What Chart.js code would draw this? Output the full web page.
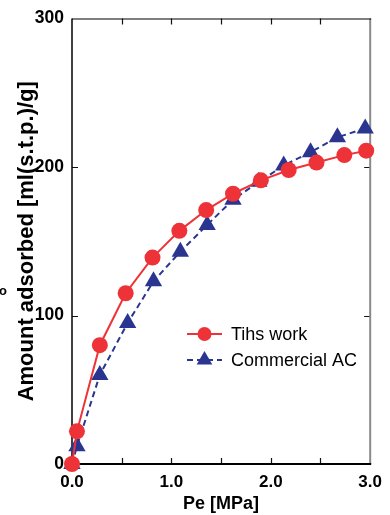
<!DOCTYPE html>
<html>
<head>
<meta charset="utf-8">
<script src="https://cdn.jsdelivr.net/npm/chart.js@4.4.1/dist/chart.umd.min.js"></script>
<style>
  html, body { margin: 0; padding: 0; background: #fff; }
</style>
</head>
<body>
<canvas id="isoChart" width="390" height="515"></canvas>
<script>
// values
const pressureOurs = [0.0, 0.05, 0.28, 0.54, 0.81, 1.08, 1.35, 1.62, 1.90, 2.18, 2.46, 2.74, 2.96];
const amountOurs = [0, 22, 80, 115, 139, 157, 171, 182, 191, 198, 203, 208, 211];
const pressureAC = [0.0, 0.05, 0.28, 0.56, 0.82, 1.09, 1.36, 1.62, 1.88, 2.13, 2.40, 2.67, 2.95];
const amountAC = [0, 12, 60, 95, 123, 143, 161, 178, 190, 201, 210, 220, 226];
const seriesNames = ['Tihs work', 'Commercial AC'];
const xTickLabels = ['0.0', '1.0', '2.0', '3.0'];
const yTickLabels = ['0', '100', '200', '300'];

const RED = '#EE3338';
const NAVY = '#2A3590';
const SANS = '"Liberation Sans", Arial, sans-serif';

function toPoints(xs, ys) {
    return xs.map((x, i) => ({ x: x, y: ys[i] }));
}

// box frame + inward tick marks, drawn under the markers
const framePlugin = {
    id: 'frame',
    beforeDatasetsDraw(chart) {
        const { ctx, chartArea: a, scales } = chart;
        ctx.save();
        ctx.lineCap = 'butt';
        // ticks
        ctx.strokeStyle = '#111';
        ctx.lineWidth = 1.2;
        scales.x.ticks.forEach(t => {
            if (t.value <= 0 || t.value >= 3) return;
            const px = Math.round(scales.x.getPixelForValue(t.value)) + 0.5;
            ctx.beginPath();
            ctx.moveTo(px, a.bottom); ctx.lineTo(px, a.bottom - 6);
            ctx.moveTo(px, a.top); ctx.lineTo(px, a.top + 6);
            ctx.stroke();
        });
        scales.y.ticks.forEach(t => {
            if (t.value <= 0 || t.value >= 300) return;
            const py = Math.round(scales.y.getPixelForValue(t.value)) + 0.5;
            ctx.beginPath();
            ctx.moveTo(a.left, py); ctx.lineTo(a.left + 6, py);
            ctx.moveTo(a.right, py); ctx.lineTo(a.right - 6, py);
            ctx.stroke();
        });
        // frame
        ctx.strokeStyle = '#8a8a8a';
        ctx.lineWidth = 2;
        ctx.beginPath(); ctx.moveTo(a.right, a.top); ctx.lineTo(a.right, a.bottom); ctx.stroke();
        ctx.strokeStyle = '#000';
        ctx.lineWidth = 1.2;
        ctx.beginPath(); ctx.moveTo(a.left, a.top + 0.5); ctx.lineTo(a.right + 1, a.top + 0.5); ctx.stroke();
        ctx.lineWidth = 1.5;
        ctx.beginPath(); ctx.moveTo(a.left, a.top); ctx.lineTo(a.left, a.bottom); ctx.stroke();
        ctx.lineWidth = 2;
        ctx.beginPath(); ctx.moveTo(a.left, a.bottom); ctx.lineTo(a.right + 1, a.bottom); ctx.stroke();
        ctx.restore();
    },
    afterDraw(chart) {
        // stray glyph cut off at the left edge of the original figure
        const ctx = chart.ctx;
        ctx.save();
        ctx.fillStyle = '#000';
        ctx.font = 'bold 13px ' + SANS;
        ctx.textBaseline = 'middle';
        ctx.fillText('o', -1, 291);
        ctx.restore();
    }
};

// legend with a line sample through the marker
const legendPlugin = {
    id: 'lineLegend',
    afterDatasetsDraw(chart) {
        const ctx = chart.ctx;
        const x0 = 187, x1 = 222, tx = 231;
        const rows = [334, 360];
        ctx.save();
        chart.data.datasets.forEach((ds, i) => {
            const y = rows[i];
            ctx.strokeStyle = ds.borderColor;
            ctx.lineWidth = ds.borderWidth;
            ctx.setLineDash(ds.borderDash || []);
            ctx.beginPath(); ctx.moveTo(x0, y); ctx.lineTo(x1, y); ctx.stroke();
            ctx.setLineDash([]);
            ctx.fillStyle = ds.pointBackgroundColor;
            const cx = (x0 + x1) / 2;
            ctx.beginPath();
            if (ds.pointStyle === 'triangle') {
                const r = 9;
                ctx.moveTo(cx, y - r);
                ctx.lineTo(cx + r * 0.866, y + r / 2);
                ctx.lineTo(cx - r * 0.866, y + r / 2);
                ctx.closePath();
            } else {
                ctx.arc(cx, y, 7, 0, Math.PI * 2);
            }
            ctx.fill();
            ctx.fillStyle = '#000';
            ctx.font = '18px ' + SANS;
            ctx.textBaseline = 'middle';
            ctx.fillText(ds.label, tx, y + 1);
        });
        ctx.restore();
    }
};

const ctx = document.getElementById('isoChart').getContext('2d');
const isoChart = new Chart(ctx, {
    type: 'scatter',
    data: {
        datasets: [{
            label: seriesNames[0],
            data: toPoints(pressureOurs, amountOurs),
            showLine: true,
            borderColor: RED,
            borderWidth: 2,
            pointStyle: 'circle',
            pointRadius: 8,
            pointBorderWidth: 0,
            pointBackgroundColor: RED,
            pointHoverRadius: 8,
            clip: false
        }, {
            label: seriesNames[1],
            data: toPoints(pressureAC, amountAC),
            showLine: true,
            borderColor: NAVY,
            borderWidth: 2,
            borderDash: [6, 4],
            pointStyle: 'triangle',
            pointRadius: 10,
            pointBorderWidth: 0,
            pointBackgroundColor: NAVY,
            pointHoverRadius: 10,
            clip: false
        }]
    },
    options: {
        responsive: false,
        animation: false,
        devicePixelRatio: 1,
        layout: { padding: { top: 18, right: 17, left: 0, bottom: 0 } },
        plugins: {
            legend: { display: false },
            tooltip: { enabled: false }
        },
        scales: {
            x: {
                type: 'linear',
                min: 0,
                max: 3,
                afterFit(scale) { scale.height = 51; },
                grid: { display: false, drawTicks: false },
                border: { display: false },
                ticks: {
                    stepSize: 0.5,
                    padding: 8,
                    maxRotation: 0,
                    autoSkip: false,
                    color: '#000',
                    font: { family: SANS, size: 17, weight: 'bold' },
                    callback: v => (Number.isInteger(v) ? xTickLabels[v] : '')
                },
                title: {
                    display: true,
                    text: 'Pe [MPa]',
                    color: '#000',
                    padding: { top: 0, bottom: 0 },
                    font: { family: SANS, size: 18, weight: 'bold' }
                }
            },
            y: {
                type: 'linear',
                min: 0,
                max: 300,
                afterFit(scale) { scale.width = 72; },
                grid: { display: false, drawTicks: false },
                border: { display: false },
                ticks: {
                    stepSize: 100,
                    padding: 8,
                    color: '#000',
                    font: { family: SANS, size: 17.5, weight: 'bold' },
                    callback: v => yTickLabels[v / 100]
                },
                title: {
                    display: true,
                    text: 'Amount adsorbed [ml(s.t.p.)/g]',
                    color: '#000',
                    padding: { top: 14, bottom: 0 },
                    font: { family: SANS, size: 22, weight: 'bold' }
                }
            }
        }
    },
    plugins: [framePlugin, legendPlugin]
});
</script>
</body>
</html>
